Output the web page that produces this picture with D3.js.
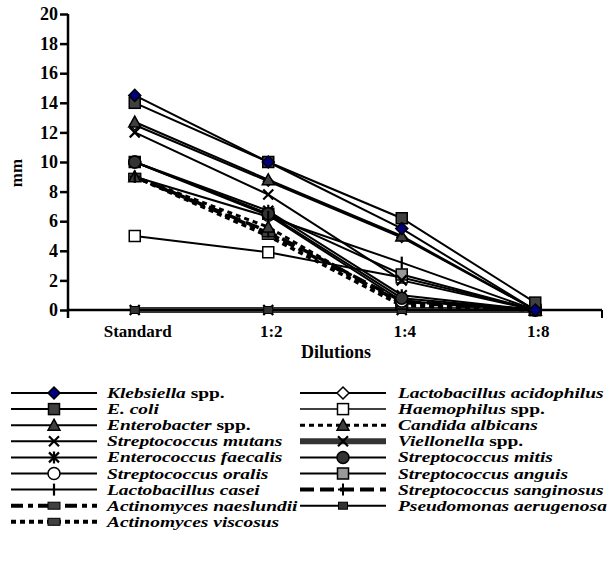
<!DOCTYPE html>
<html><head><meta charset="utf-8">
<script src="https://cdn.jsdelivr.net/npm/d3@7"></script>
<style>
body{margin:0;background:#fff;}
svg text{font-family:"Liberation Serif","Times New Roman",serif;}
</style></head>
<body>
<svg id="c" width="615" height="588"></svg>
<script>
const categories = ["Standard","1:2","1:4","1:8"];
const yTicks = [0,2,4,6,8,10,12,14,16,18,20];
const klebsiella   = [14.5, 10.0, 5.5, 0];
const lactoAcid    = [12.5, 8.7, 4.9, 0];
const eColi        = [14.0, 10.0, 6.2, 0.5];
const haemophilus  = [5.0, 3.9, 2.2, 0];
const enterobacter = [12.7, 8.8, 5.0, 0];
const candida      = [9.0, 5.6, 0.4, 0];
const sMutans      = [12.0, 7.8, 2.0, 0];
const viellonella  = [0, 0, 0, 0];
const eFaecalis    = [10.0, 6.7, 1.0, 0];
const sMitis       = [10.0, 6.5, 0.8, 0];
const sOralis      = [10.0, 6.4, 0.6, 0];
const sAnguis      = [10.0, 6.5, 2.4, 0];
const lCasei       = [9.0, 6.3, 3.2, 0];
const sSanginosus  = [9.0, 5.3, 0.6, 0];
const aNaeslundii  = [9.0, 5.2, 0.5, 0];
const pseudomonas  = [0, 0, 0, 0];
const aViscosus    = [9.0, 5.0, 0.3, 0];

const seriesNames = [
  ["Klebsiella"," spp."],["E. coli",""],["Enterobacter"," spp."],["Streptococcus mutans",""],
  ["Enterococcus faecalis",""],["Streptococcus oralis",""],["Lactobacillus casei",""],
  ["Actinomyces naeslundii",""],["Actinomyces viscosus",""],
  ["Lactobacillus acidophilus",""],["Haemophilus"," spp."],["Candida albicans",""],
  ["Viellonella"," spp."],["Streptococcus mitis",""],["Streptococcus anguis",""],
  ["Streptococcus sanginosus",""],["Pseudomonas aerugenosa",""]
];
const seriesValues = [klebsiella,eColi,enterobacter,sMutans,eFaecalis,sOralis,lCasei,aNaeslundii,aViscosus,
  lactoAcid,haemophilus,candida,viellonella,sMitis,sAnguis,sSanginosus,pseudomonas];

// styles (index-aligned)
const styles = [
  {m:"diamond", fill:"#000080", w:2, dash:null},
  {m:"square", fill:"#404040", w:2, dash:null},
  {m:"triangle", fill:"#404040", w:2, dash:null},
  {m:"x", fill:"none", w:2, dash:null},
  {m:"star", fill:"none", w:2, dash:null},
  {m:"circle", fill:"#fff", w:2, dash:null},
  {m:"vbar", fill:"none", w:2, dash:null},
  {m:"rect", fill:"#404040", w:4, dash:"12,5,5,5"},
  {m:"rect", fill:"#404040", w:4, dash:"5,4"},
  {m:"sdiamond", fill:"#fff", w:2, dash:null},
  {m:"square", fill:"#fff", w:1.5, dash:null},
  {m:"triangle", fill:"#404040", w:3, dash:"5,4"},
  {m:"x", fill:"none", w:6, dash:null, color:"#333"},
  {m:"circle", fill:"#333", w:2, dash:null},
  {m:"square", fill:"#999", w:2, dash:null},
  {m:"plus", fill:"none", w:4, dash:"14,6"},
  {m:"srect", fill:"#333", w:2, dash:null}
];

const svg = d3.select("#c");
const x = d3.scaleBand().domain(categories).range([68, 602]);
const cx = c => x(c) + x.bandwidth()/2;
const y = d3.scaleLinear().domain([0, 20]).range([310, 14]);

function marker(g, type, px, py, fill, legend){
  const k = g.append("g").attr("transform",`translate(${px},${py})`);
  if(type==="diamond" || (type==="sdiamond" && legend)){
    k.append("path").attr("d","M0,-6L6,0L0,6L-6,0Z").attr("fill",fill).attr("stroke","#000").attr("stroke-width",1.5);
  } else if(type==="sdiamond"){
    k.append("path").attr("d","M0,-5L5,0L0,5L-5,0Z").attr("fill",fill).attr("stroke","#000").attr("stroke-width",1.3);
  } else if(type==="square"){
    k.append("rect").attr("x",-5.5).attr("y",-5.5).attr("width",11).attr("height",11).attr("fill",fill).attr("stroke","#000").attr("stroke-width",1.5);
  } else if(type==="triangle"){
    k.append("path").attr("d","M0,-6L6,5L-6,5Z").attr("fill",fill).attr("stroke","#000").attr("stroke-width",1.5);
  } else if(type==="x"){
    k.append("path").attr("d","M-5,-5L5,5M-5,5L5,-5").attr("stroke","#000").attr("stroke-width",2.2);
  } else if(type==="star"){
    k.append("path").attr("d","M-5,-5L5,5M-5,5L5,-5M0,-6L0,6").attr("stroke","#000").attr("stroke-width",2.2);
  } else if(type==="circle"){
    k.append("circle").attr("r",6).attr("fill",fill).attr("stroke","#000").attr("stroke-width",1.5);
  } else if(type==="vbar"){
    k.append("path").attr("d","M0,-6L0,6").attr("stroke","#000").attr("stroke-width",2.2);
  } else if(type==="plus"){
    k.append("path").attr("d","M0,-6L0,6M-5,0L5,0").attr("stroke","#000").attr("stroke-width",2);
  } else if(type==="rect"){
    k.append("rect").attr("x",-6).attr("y",-3.5).attr("width",12).attr("height",7).attr("fill",fill).attr("stroke","#000").attr("stroke-width",1);
  } else if(type==="srect"){
    k.append("rect").attr("x",-4.5).attr("y",-3.5).attr("width",9).attr("height",7).attr("fill",fill).attr("stroke","#000").attr("stroke-width",1);
  }
}

// axes
const yAxis = d3.axisLeft(y).tickValues(yTicks).tickSize(8).tickPadding(2);
const gy = svg.append("g").attr("transform","translate(68,0)").call(yAxis);
gy.select(".domain").attr("stroke","#000").attr("stroke-width",2.5).attr("d","M-0,14V318");
gy.selectAll(".tick line").attr("stroke","#000").attr("stroke-width",2.5);
gy.selectAll(".tick text").attr("font-size",18).attr("font-weight","bold").attr("fill","#000")
  .attr("font-family","Liberation Serif");

const gx = svg.append("g").attr("transform","translate(0,310)");
gx.append("line").attr("x1",68).attr("x2",602).attr("y1",0).attr("y2",0).attr("stroke","#000").attr("stroke-width",2.5);
const bounds = categories.map(c=>x(c)).concat([602]);
gx.selectAll(".bt").data(bounds).join("line").attr("x1",d=>d).attr("x2",d=>d).attr("y1",0)
  .attr("y2",(d,i)=> (i===0||i===bounds.length-1)?8:3).attr("stroke","#000").attr("stroke-width",2);
gx.selectAll(".cl").data(categories).join("text").attr("x",d=>cx(d)+3).attr("y",27)
  .attr("text-anchor","middle").attr("font-size",17).attr("font-weight","bold").text(d=>d);
svg.append("text").attr("x",336).attr("y",358).attr("text-anchor","middle").attr("font-size",18)
  .attr("font-weight","bold").text("Dilutions");
svg.append("text").attr("transform","translate(22,173) rotate(-90)").attr("text-anchor","middle")
  .attr("font-size",17).attr("font-weight","bold").text("mm");

// lines
const line = d3.line().x((d,i)=>cx(categories[i])).y(d=>y(d));
const drawOrder = [12,16,8,7,15,11,10,14,5,4,13,6,3,9,2,1,0];
const plot = svg.append("g");
drawOrder.forEach(i=>{
  const st = styles[i];
  plot.append("path").datum(seriesValues[i]).attr("d",line).attr("fill","none")
    .attr("stroke",st.color||"#000").attr("stroke-width",st.dash? Math.min(st.w,3.5): (st.w>4?st.w:2))
    .attr("stroke-dasharray",st.dash);
});
drawOrder.forEach(i=>{
  const st = styles[i];
  seriesValues[i].forEach((v,j)=>marker(plot, st.m, cx(categories[j]), y(v), st.fill, false));
});

// legend
const leg = svg.append("g");
seriesNames.forEach((nm,i)=>{
  const col = i<9?0:1, row = i<9?i:i-9;
  const x0 = col===0?11:300, x1 = col===0?97:386, mx = (x0+x1)/2, tx = col===0?107:398;
  const yy = 393 + row*16.1;
  const st = styles[i];
  leg.append("line").attr("x1",x0).attr("x2",x1).attr("y1",yy).attr("y2",yy)
    .attr("stroke",st.color||"#000").attr("stroke-width",st.w).attr("stroke-dasharray",st.dash);
  marker(leg, st.m, mx, yy, st.fill, true);
  const t = leg.append("text").attr("transform",`translate(${tx},${yy+5}) scale(1.35,1)`)
    .attr("font-size",14.4).attr("font-weight","bold");
  t.append("tspan").attr("font-style","italic").text(nm[0]);
  if(nm[1]) t.append("tspan").text(nm[1]);
});
</script>
</body></html>
